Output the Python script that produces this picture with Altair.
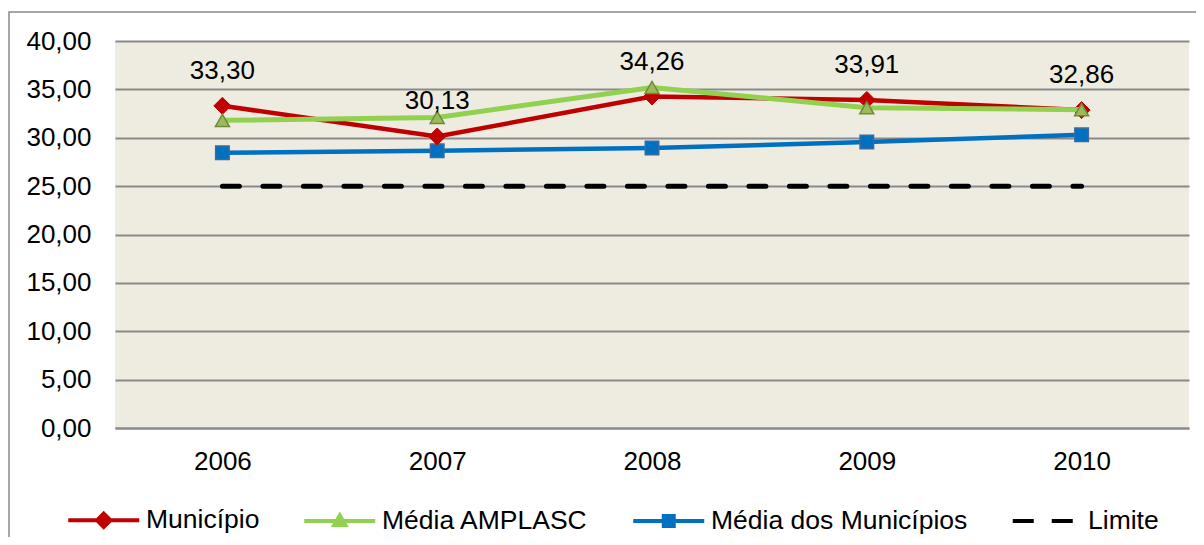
import altair as alt
import pandas as pd

# ---- data ----
years = ["2006", "2007", "2008", "2009", "2010"]
municipio = [33.30, 30.13, 34.26, 33.91, 32.86]
media_amplasc = [31.8, 32.1, 35.2, 33.1, 32.9]
media_municipios = [28.45, 28.65, 28.95, 29.55, 30.3]
limite = [25.0, 25.0, 25.0, 25.0, 25.0]
series = ["Município", "Média AMPLASC", "Média dos Municípios", "Limite"]
y_ticks = [0, 5, 10, 15, 20, 25, 30, 35, 40]

rows = []
for name, vals in zip(series, [municipio, media_amplasc, media_municipios, limite]):
    for ano, v in zip(years, vals):
        rows.append({"ano": ano, "valor": v, "serie": name})
df = pd.DataFrame(rows)

FONT = "Liberation Sans"
GRID = "#898989"
BEIGE = "#EEECE1"
W, H = 1074, 387

x = alt.X("ano:O", scale=alt.Scale(type="point", padding=0.5),
          axis=alt.Axis(title=None, labelAngle=0, ticks=False, tickSize=0, grid=False,
                        domain=True, domainColor=GRID, domainWidth=2,
                        labelFont=FONT, labelFontSize=26, labelColor="black",
                        labelPadding=20))
y = alt.Y("valor:Q", scale=alt.Scale(domain=[0, 40], nice=False, zero=True),
          axis=alt.Axis(title=None, values=y_ticks, ticks=False, tickSize=0, domain=False,
                        grid=True, gridColor=GRID, gridWidth=2,
                        labelFont=FONT, labelFontSize=26, labelColor="black",
                        labelPadding=24,
                        labelExpr="replace(format(datum.value, '.2f'), '.', ',')"))

base = alt.Chart(df)

def sub(name):
    return base.transform_filter(alt.datum.serie == name)

# outer chart border
border = alt.Chart(pd.DataFrame({"k": [0]})).mark_rect(
    fillOpacity=0, stroke=GRID, strokeWidth=1.5
).encode(x=alt.value(-106), x2=alt.value(W + 40), y=alt.value(-29), y2=alt.value(H + 160))

line_mun = sub("Município").mark_line(color="#C00000", strokeWidth=4.5).encode(x=x, y=y)
pt_mun = sub("Município").mark_point(shape="diamond", size=290, filled=True, opacity=1,
                                      fill="#C00000", stroke="#C00000", strokeWidth=1).encode(x=x, y=y)
line_amp = sub("Média AMPLASC").mark_line(color="#92D050", strokeWidth=5).encode(x=x, y=y)
pt_amp = sub("Média AMPLASC").mark_point(shape="triangle-up", size=196, filled=True, opacity=1,
                                          fill="#9BBB59", stroke="#71893F", strokeWidth=1.5).encode(x=x, y=y)
line_med = sub("Média dos Municípios").mark_line(color="#0070C0", strokeWidth=4.5).encode(x=x, y=y)
pt_med = sub("Média dos Municípios").mark_point(shape="square", size=182, filled=True, opacity=1,
                                                 fill="#0070C0", stroke="#3B6A9E", strokeWidth=1.5).encode(x=x, y=y)
line_lim = sub("Limite").mark_line(color="black", strokeWidth=5, strokeDash=[17, 23.5],
                                   strokeCap="round").encode(x=x, y=y)

labels = sub("Município").transform_calculate(
    rotulo="replace(format(datum.valor, '.2f'), '.', ',')"
).mark_text(dy=-35, baseline="middle", align="center", font=FONT, fontSize=26, color="black").encode(
    x=x, y=y, text="rotulo:N")

# legend (symbols are line + marker paths)
paths = [
    "M-3.55,0L3.55,0M0,-0.67L0.67,0L0,0.67L-0.67,0Z",
    "M-3.55,0L3.55,0M0,-0.55L0.55,0.4L-0.55,0.4Z",
    "M-3.55,0L3.55,0M-0.5,-0.5L0.5,-0.5L0.5,0.5L-0.5,0.5Z",
    "M-3.3,0L-1.2,0M0.6,0L2.7,0",
]
fills = ["#C00000", "#9BBB59", "#0070C0", "transparent"]
strokes = ["#C00000", "#92D050", "#0070C0", "#000000"]
leg = alt.Legend(title=None, orient="none", legendX=-50, legendY=466, direction="horizontal",
                 columns=4, columnPadding=36, symbolSize=400, symbolOffset=25.5, labelOffset=29,
                 symbolStrokeWidth=4, labelFont=FONT, labelFontSize=26.5, labelColor="black",
                 labelLimit=0, padding=0)
legend_layer = base.mark_point(clip=True, opacity=1, strokeWidth=4, filled=False).encode(
    x=x, y=alt.value(-500),
    shape=alt.Shape("serie:N", scale=alt.Scale(domain=series, range=paths), legend=leg),
    fill=alt.Fill("serie:N", scale=alt.Scale(domain=series, range=fills), legend=leg),
    stroke=alt.Stroke("serie:N", scale=alt.Scale(domain=series, range=strokes), legend=leg),
)

chart = alt.layer(
    border, line_lim, line_med, pt_med, line_mun, pt_mun, line_amp, pt_amp, labels, legend_layer
).properties(
    width=W, height=H,
    autosize=alt.AutoSizeParams(type="none"),
    padding={"left": 107, "top": 33, "right": 7, "bottom": 109},
    background="white",
).configure_view(fill=BEIGE, strokeWidth=0)

chart.save("out.html", embed_options={"renderer": "svg", "actions": False})
